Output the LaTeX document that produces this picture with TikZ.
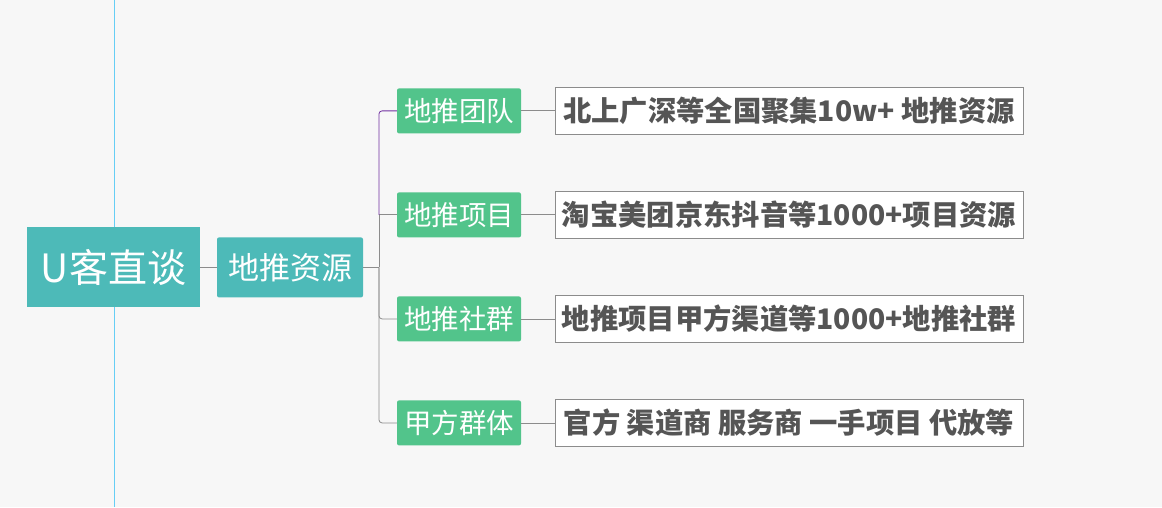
\documentclass[tikz,border=0pt]{standalone}
\usepackage{fontspec}
\newfontfamily\cjk{Noto Sans CJK SC}
\definecolor{bgc}{HTML}{F7F7F7}
\definecolor{rootc}{HTML}{4DBAB8}
\definecolor{topicc}{HTML}{52C48B}
\definecolor{leaftxt}{HTML}{555555}
\definecolor{linec}{HTML}{8C8C8C}
\definecolor{purp}{HTML}{7030A0}
\tikzset{
  rootbox/.style={fill=rootc, text=white, minimum width=173pt, minimum height=80pt, inner sep=0pt, font=\cjk\fontsize{39}{42}\selectfont},
  subbox/.style={fill=rootc, text=white, rounded corners=2pt, minimum width=146pt, minimum height=60pt, inner sep=0pt, font=\cjk\fontsize{31}{34}\selectfont},
  topicbox/.style={fill=topicc, text=white, rounded corners=2pt, minimum width=124pt, minimum height=45pt, inner sep=0pt, font=\cjk\fontsize{27.5}{30}\selectfont},
  leafbox/.style={fill=white, draw=linec, text=leaftxt, minimum width=468pt, minimum height=47pt, inner sep=0pt, font=\cjk\bfseries\fontsize{28.3}{30}\selectfont},
  link/.style={draw=linec, line width=0.8pt}
}
\begin{document}
\begin{tikzpicture}[x=1pt, y=-1pt]
  % background
  \fill[bgc] (0,0) rectangle (1162,507);
  \draw[cyan!60, line width=0.8pt] (114,0) -- (114,507);

  % root and main topic
  \node[rootbox] (root) at (113.5,267) {U客直谈};
  \node[subbox] (res) at (290,267) {地推资源};
  \draw[link] (root.east) -- (res.west);
  \coordinate (bus) at (379,267);
  \draw[link] (res.east) -- (bus);

  % topics and leaves
  \foreach \i/\y/\t/\l in {1/110.5/地推团队/北上广深等全国聚集10w+ 地推资源,
      2/214.5/地推项目/淘宝美团京东抖音等1000+项目资源,
      3/318.5/地推社群/地推项目甲方渠道等1000+地推社群,
      4/422.5/甲方群体/官方 渠道商 服务商 一手项目 代放等} {
    \node[topicbox] (t\i) at (459,\y) {\t};
    \node[leafbox] (l\i) at (789,\y) {\l};
    \draw[link] (t\i.east) -- (l\i.west);
  }
  \draw[link, rounded corners=3pt] (bus) |- (t3.west);
  \draw[link, rounded corners=3pt] (bus) |- (t4.west);
  \draw[link] (bus) |- (t2.west);
  \draw[purp, line width=0.8pt, rounded corners=3pt] (bus |- t2.west) |- (t1.west);
\end{tikzpicture}
\end{document}
